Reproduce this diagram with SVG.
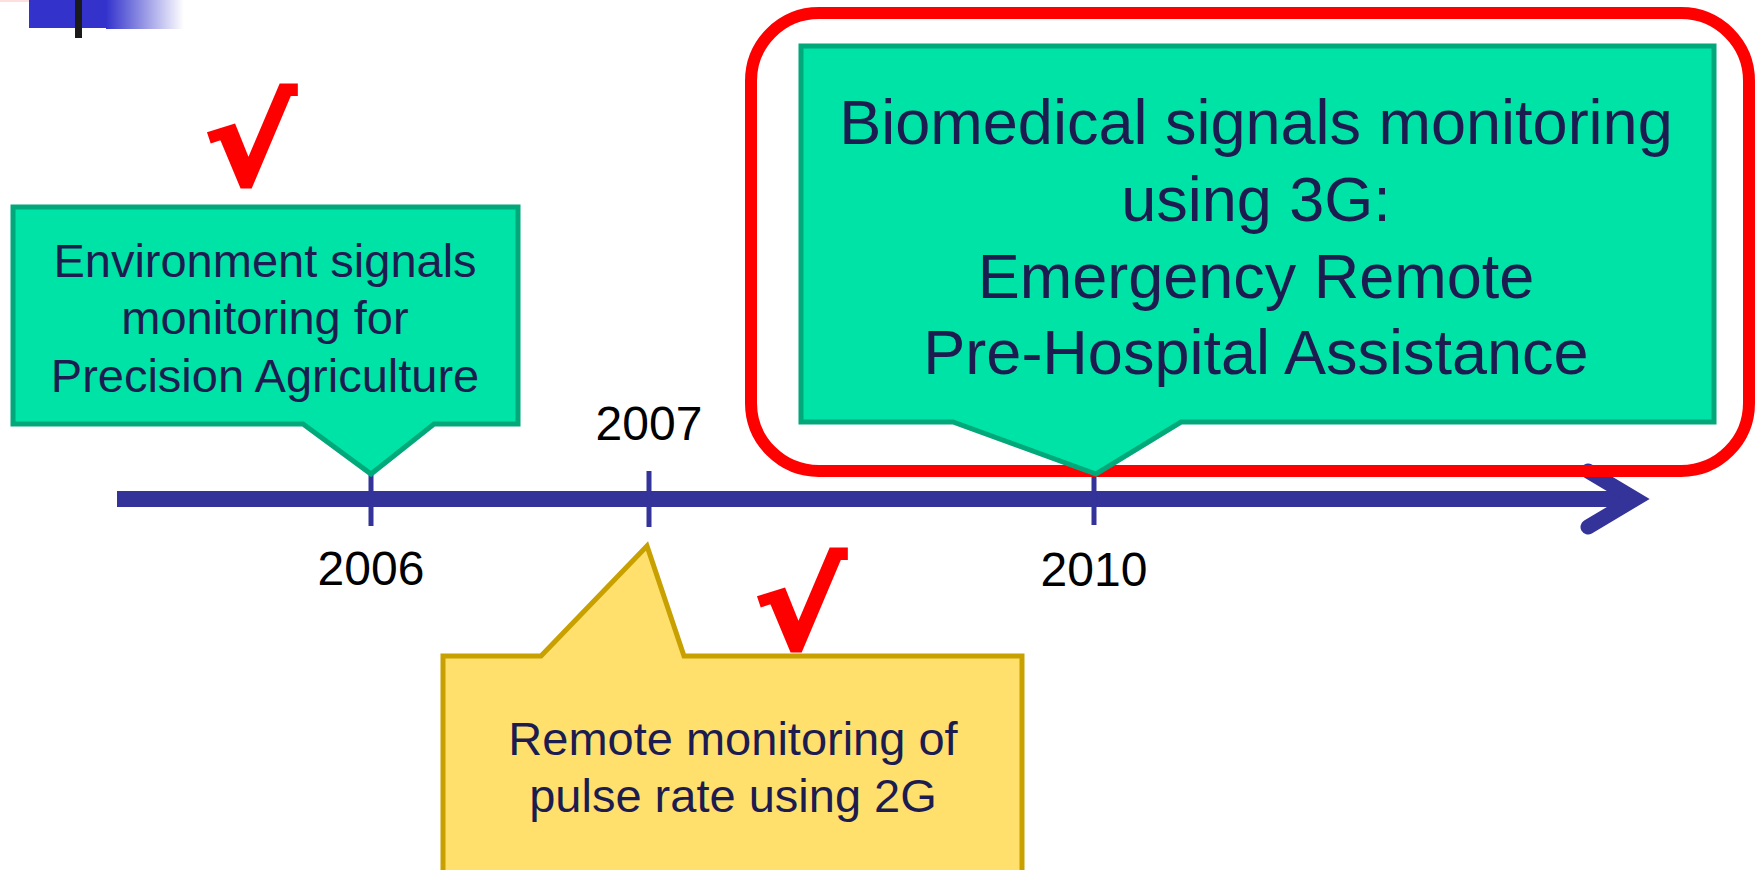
<svg xmlns="http://www.w3.org/2000/svg" width="1758" height="870" viewBox="0 0 1758 870">
<defs>
<linearGradient id="fade" x1="0" y1="0" x2="1" y2="0">
<stop offset="0" stop-color="#3333cc"/>
<stop offset="1" stop-color="#ffffff"/>
</linearGradient>
<style>
.txt{font-family:"Liberation Sans",Arial,sans-serif;fill:#1c1c50;text-anchor:middle}
.yr{font-family:"Liberation Sans",Arial,sans-serif;fill:#000;font-size:48px;text-anchor:middle}
.green{fill:#00e3a6;stroke:#00a87a;stroke-width:5;stroke-linejoin:miter}
.yellow{fill:#ffe06c;stroke:#c8a000;stroke-width:5;stroke-linejoin:miter}
.chk{font-family:"DejaVu Sans",sans-serif;font-weight:bold;fill:#ff0000;stroke:#ff0000;stroke-width:4;font-size:118px;text-anchor:middle}
.tick{stroke:#333399;stroke-width:5}
</style>
</defs>
<rect width="1758" height="870" fill="#ffffff"/>
<g id="logo">
<rect x="0" y="0" width="60" height="2" fill="#ffdede"/>
<rect x="29" y="0" width="78" height="28" fill="#3333cc"/>
<rect x="106" y="0" width="78" height="29" fill="url(#fade)"/>
<rect x="75" y="0" width="7" height="38" fill="#1a1a1a"/>
</g>
<g id="connectors">
<line x1="117" y1="499" x2="1632" y2="499" stroke="#333399" stroke-width="16"/>
<polyline points="1588,471 1635,499 1588,527" fill="none" stroke="#333399" stroke-width="15" stroke-linecap="round" stroke-linejoin="miter"/>
<line class="tick" x1="371" y1="473" x2="371" y2="526"/>
<line class="tick" x1="649" y1="471" x2="649" y2="527"/>
<line class="tick" x1="1094" y1="474" x2="1094" y2="525"/>
</g>
<g id="highlight">
<rect x="751" y="13" width="998" height="458" rx="68" ry="68" fill="none" stroke="#ff0000" stroke-width="12"/>
</g>
<g id="node-2006">
<path class="green" d="M13,207 H518 V424 H434 L371,474 L303,424 H13 Z"/>
<text class="txt" font-size="47" x="265" y="277">Environment signals</text>
<text class="txt" font-size="47" x="265" y="334">monitoring for</text>
<text class="txt" font-size="47" x="265" y="392">Precision Agriculture</text>
</g>
<g id="node-2007">
<path class="yellow" d="M443,656 H541 L647,546 L684,656 H1022 V880 H443 Z"/>
<text class="txt" font-size="47" x="733" y="755">Remote monitoring of</text>
<text class="txt" font-size="47" x="733" y="812">pulse rate using 2G</text>
</g>
<g id="node-2010">
<path class="green" d="M801,46 H1714 V422 H1181 L1096,474 L953,422 H801 Z"/>
<text class="txt" font-size="63" x="1256" y="144">Biomedical signals monitoring</text>
<text class="txt" font-size="63" x="1256" y="221">using 3G:</text>
<text class="txt" font-size="63" x="1256" y="298">Emergency Remote</text>
<text class="txt" font-size="63" x="1256" y="374">Pre-Hospital Assistance</text>
</g>
<g id="labels">
<text class="yr" x="371" y="585">2006</text>
<text class="yr" x="649" y="440">2007</text>
<text class="yr" x="1094" y="586">2010</text>
</g>
<g id="checks">
<text class="chk" transform="translate(250,184) scale(1.15,1)" x="0" y="0">√</text>
<text class="chk" transform="translate(800,648) scale(1.15,1)" x="0" y="0">√</text>
</g>
</svg>
